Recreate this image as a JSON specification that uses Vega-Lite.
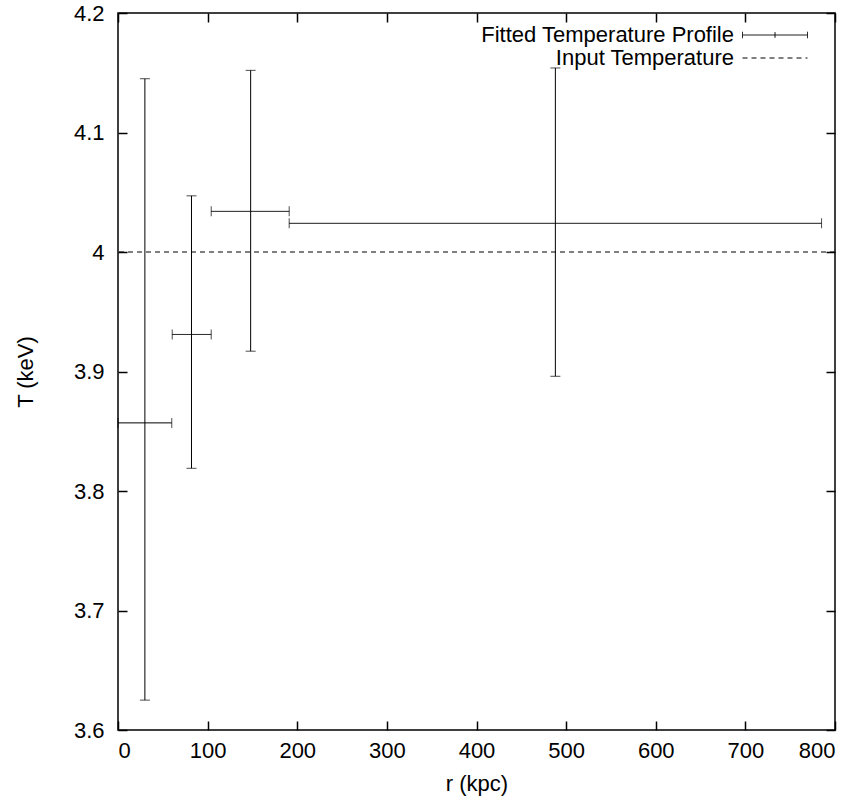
{
  "$schema": "https://vega.github.io/schema/vega-lite/v6.json",
  "width": 717,
  "height": 717,
  "autosize": "none",
  "padding": {"left": 118, "top": 13, "right": 27, "bottom": 79},
  "background": "white",
  "config": {
    "font": "Liberation Sans",
    "view": {"stroke": "black", "strokeWidth": 1.5},
    "axis": {
      "grid": false,
      "domain": false,
      "tickColor": "black",
      "tickWidth": 1.5,
      "tickSize": -9,
      "labelFontSize": 22,
      "labelColor": "black",
      "labelFont": "Liberation Sans",
      "titleFontSize": 22,
      "titleFont": "Liberation Sans",
      "titleFontWeight": "normal",
      "titleColor": "black"
    }
  },
  "data": {
    "values": [
      {"r": 30, "rlo": 0, "rhi": 60, "T": 3.857, "Tlo": 3.625, "Thi": 4.145},
      {"r": 82, "rlo": 60.5, "rhi": 104, "T": 3.931, "Tlo": 3.819, "Thi": 4.047},
      {"r": 148, "rlo": 104, "rhi": 191, "T": 4.034, "Tlo": 3.917, "Thi": 4.152},
      {"r": 488, "rlo": 191, "rhi": 785, "T": 4.024, "Tlo": 3.896, "Thi": 4.154}
    ]
  },
  "resolve": {"axis": {"x": "independent", "y": "independent"}},
  "layer": [
    {
      "mark": {"type": "rule", "color": "black", "strokeWidth": 1},
      "encoding": {
        "x": {"field": "rlo", "type": "quantitative",
          "scale": {"domain": [0, 800], "nice": false},
          "axis": {"orient": "bottom", "values": [0,100,200,300,400,500,600,700,800], "labelPadding": 19, "labelDx": 2, "title": "r (kpc)", "titlePadding": 12}},
        "x2": {"field": "rhi"},
        "y": {"field": "T", "type": "quantitative",
          "scale": {"domain": [3.6, 4.2], "nice": false, "zero": false},
          "axis": {"orient": "left", "values": [3.6,3.7,3.8,3.9,4.0,4.1,4.2], "format": ".1~f", "labelPadding": 23, "title": "T (keV)", "titlePadding": 36}},
        "strokeDash": {"datum": "Fitted Temperature Profile", "type": "nominal",
          "scale": {"domain": ["Fitted Temperature Profile", "Input Temperature"], "range": [[1, 0], [5, 4]]},
          "legend": {
            "orient": "none",
            "legendX": 646,
            "legendY": 11,
            "title": null,
            "symbolType": "M-4,0L4,0",
            "symbolSize": 264,
            "symbolStrokeWidth": 1,
            "symbolStrokeColor": "black",
            "labelFontSize": 22,
            "labelFont": "Liberation Sans",
            "labelColor": "black",
            "labelAlign": "right",
            "labelOffset": -52,
            "labelLimit": 400,
            "rowPadding": 1,
            "encode": {
              "symbols": {
                "update": {
                  "shape": {"signal": "datum.label === 'Input Temperature' ? 'M-4,0L4,0' : 'M-4,0L4,0M-4,-0.4L-4,0.4M4,-0.4L4,0.4M0,-0.35L0,0.35'"}
                }
              }
            }
          }}
      }
    },
    {
      "mark": {"type": "rule", "color": "black", "strokeWidth": 1},
      "encoding": {
        "x": {"field": "r", "type": "quantitative",
          "axis": {"orient": "top", "values": [0,100,200,300,400,500,600,700,800], "labels": false, "title": null}},
        "y": {"field": "Tlo", "type": "quantitative",
          "axis": {"orient": "right", "values": [3.6,3.7,3.8,3.9,4.0,4.1,4.2], "labels": false, "title": null}},
        "y2": {"field": "Thi"}
      }
    },
    {
      "mark": {"type": "tick", "orient": "vertical", "color": "black", "thickness": 1, "size": 10},
      "encoding": {
        "x": {"field": "rlo", "type": "quantitative", "axis": null},
        "y": {"field": "T", "type": "quantitative", "axis": null}
      }
    },
    {
      "mark": {"type": "tick", "orient": "vertical", "color": "black", "thickness": 1, "size": 10},
      "encoding": {
        "x": {"field": "rhi", "type": "quantitative", "axis": null},
        "y": {"field": "T", "type": "quantitative", "axis": null}
      }
    },
    {
      "mark": {"type": "tick", "orient": "horizontal", "color": "black", "thickness": 1, "size": 10},
      "encoding": {
        "x": {"field": "r", "type": "quantitative", "axis": null},
        "y": {"field": "Tlo", "type": "quantitative", "axis": null}
      }
    },
    {
      "mark": {"type": "tick", "orient": "horizontal", "color": "black", "thickness": 1, "size": 10},
      "encoding": {
        "x": {"field": "r", "type": "quantitative", "axis": null},
        "y": {"field": "Thi", "type": "quantitative", "axis": null}
      }
    },
    {
      "data": {"values": [{"Tin": 4.0}]},
      "mark": {"type": "rule", "color": "black", "strokeWidth": 1},
      "encoding": {
        "y": {"field": "Tin", "type": "quantitative", "axis": null},
        "strokeDash": {"datum": "Input Temperature", "type": "nominal"}
      }
    }
  ]
}
